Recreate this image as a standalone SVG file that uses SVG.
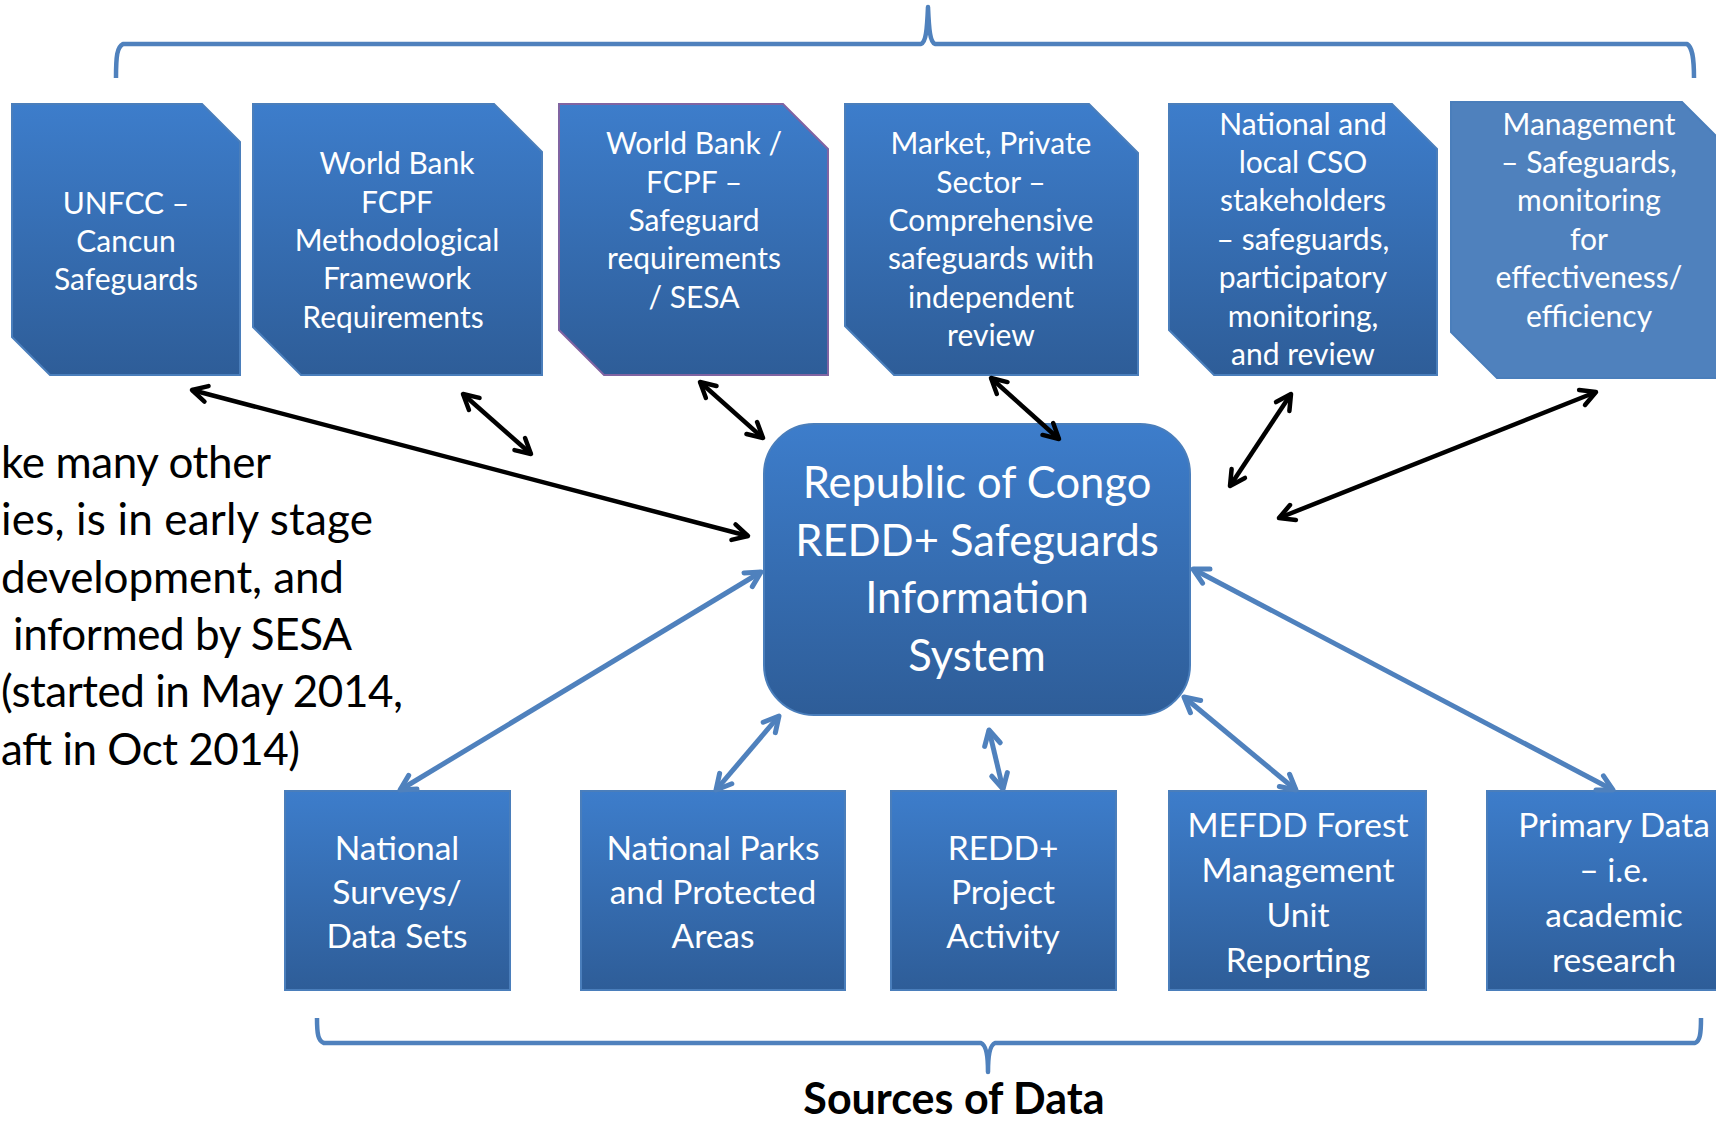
<svg xmlns="http://www.w3.org/2000/svg" width="1716" height="1124" viewBox="0 0 1716 1124">
<style>
.t{font-family:Lato,"Open Sans","Liberation Sans",sans-serif;fill:#fff;text-anchor:middle}
.top{font-size:30px}
.bot{font-size:33.5px}
.ctr{font-size:43.5px}
.side{font-family:Lato,"Open Sans","Liberation Sans",sans-serif;font-size:44px;fill:#000}
.src{font-family:Lato,"Open Sans","Liberation Sans",sans-serif;font-size:43px;font-weight:bold;fill:#000;text-anchor:middle}
.box{fill:url(#g);stroke:#4a7ebb;stroke-width:2}
.brace{fill:none;stroke:#4f81bd;stroke-width:4.5;stroke-linejoin:round;stroke-linecap:butt}
.ab{fill:none;stroke:#000;stroke-width:4.5;marker-start:url(#mb);marker-end:url(#mb)}
.al{fill:none;stroke:#4f81bd;stroke-width:5;marker-start:url(#ml);marker-end:url(#ml)}
</style>
<defs>
<linearGradient id="g" x1="0" y1="0" x2="0" y2="1">
<stop offset="0" stop-color="#3d7dcb"/>
<stop offset="1" stop-color="#2e5d98"/>
</linearGradient>
<marker id="mb" viewBox="0 0 24 24" markerWidth="24" markerHeight="24" markerUnits="userSpaceOnUse" refX="20" refY="12" orient="auto-start-reverse">
<path d="M5,4 L20,12 L5,20" fill="none" stroke="#000" stroke-width="4.5" stroke-linecap="round" stroke-linejoin="round"/>
</marker>
<marker id="ml" viewBox="0 0 24 24" markerWidth="24" markerHeight="24" markerUnits="userSpaceOnUse" refX="20" refY="12" orient="auto-start-reverse">
<path d="M5,4 L20,12 L5,20" fill="none" stroke="#4f81bd" stroke-width="5" stroke-linecap="round" stroke-linejoin="round"/>
</marker>
</defs>
<rect width="1716" height="1124" fill="#fff"/>

<g id="brace-top"><path class="brace" d="M116,78 C116,56 117,47 123,44 L921,44 C926,42 927,30 928,7 C929,30 930,42 935,44 L1687,44 C1692,47 1694,56 1694,78"/></g>
<g id="brace-bottom"><path class="brace" d="M317,1018 C317,1034 318,1041 324,1043 L981,1043 C986,1045 988,1055 988,1072 C988,1055 990,1045 995,1043 L1695,1043 C1700,1041 1701,1034 1701,1018"/></g>

<g id="n-unfcc"><path class="box" d="M12,104 L202,104 L240,142 L240,375 L50,375 L12,337 Z"/>
<text class="t top"><tspan x="126" y="214">UNFCC –</tspan><tspan x="126" y="252">Cancun</tspan><tspan x="126" y="290">Safeguards</tspan></text></g>
<g id="n-wbfcpf"><path class="box" d="M253,104 L494,104 L542,152 L542,375 L301,375 L253,327 Z"/>
<text class="t top"><tspan x="397" y="174">World Bank</tspan><tspan x="397" y="213">FCPF</tspan><tspan x="397" y="251">Methodological</tspan><tspan x="397" y="289">Framework</tspan><tspan x="393" y="328">Requirements</tspan></text></g>
<g id="n-wbsesa"><path d="M559,104 L783,104 L828,149 L828,375 L604,375 L559,330 Z" fill="url(#g)" stroke="#8064a2" stroke-width="2"/>
<text class="t top"><tspan x="694" y="154">World Bank /</tspan><tspan x="694" y="193">FCPF –</tspan><tspan x="694" y="231">Safeguard</tspan><tspan x="694" y="269">requirements</tspan><tspan x="694" y="308">/ SESA</tspan></text></g>
<g id="n-market"><path class="box" d="M845,104 L1089,104 L1138,153 L1138,375 L894,375 L845,326 Z"/>
<text class="t top"><tspan x="991" y="154">Market, Private</tspan><tspan x="991" y="193">Sector –</tspan><tspan x="991" y="231">Comprehensive</tspan><tspan x="991" y="269">safeguards with</tspan><tspan x="991" y="308">independent</tspan><tspan x="991" y="346">review</tspan></text></g>
<g id="n-cso"><path class="box" d="M1169,104 L1392,104 L1437,149 L1437,375 L1214,375 L1169,330 Z"/>
<text class="t top"><tspan x="1303" y="135">National and</tspan><tspan x="1303" y="173">local CSO</tspan><tspan x="1303" y="211">stakeholders</tspan><tspan x="1303" y="250">– safeguards,</tspan><tspan x="1303" y="288">participatory</tspan><tspan x="1303" y="327">monitoring,</tspan><tspan x="1303" y="365">and review</tspan></text></g>
<g id="n-mgmt"><path d="M1451,102 L1682,102 L1728,148 L1728,378 L1497,378 L1451,332 Z" fill="#4f81bd" stroke="#4a7ebb" stroke-width="2"/>
<text class="t top"><tspan x="1589" y="135">Management</tspan><tspan x="1589" y="173">– Safeguards,</tspan><tspan x="1589" y="211">monitoring</tspan><tspan x="1589" y="250">for</tspan><tspan x="1589" y="288">effectiveness/</tspan><tspan x="1589" y="327">efficiency</tspan></text></g>

<g id="n-center"><rect class="box" x="764" y="424" width="426" height="291" rx="50" ry="50"/>
<text class="t ctr"><tspan x="977" y="498">Republic of Congo</tspan><tspan x="977" y="556">REDD+ Safeguards</tspan><tspan x="977" y="613">Information</tspan><tspan x="977" y="671">System</tspan></text></g>

<g id="side-text">
<text class="side" x="1" y="478" textLength="270" lengthAdjust="spacing">ke many other</text>
<text class="side" x="1" y="535" textLength="372" lengthAdjust="spacing">ies, is in early stage</text>
<text class="side" x="1" y="593" textLength="343" lengthAdjust="spacing">development, and</text>
<text class="side" x="13" y="650" textLength="339" lengthAdjust="spacing">informed by SESA</text>
<text class="side" x="1" y="707" textLength="402" lengthAdjust="spacing">(started in May 2014,</text>
<text class="side" x="1" y="765" textLength="299" lengthAdjust="spacing">aft in Oct 2014)</text>
</g>

<g id="n-surveys"><rect class="box" x="285" y="791" width="225" height="199"/>
<text class="t bot"><tspan x="397" y="860">National</tspan><tspan x="397" y="904">Surveys/</tspan><tspan x="397" y="948">Data Sets</tspan></text></g>
<g id="n-parks"><rect class="box" x="581" y="791" width="264" height="199"/>
<text class="t bot"><tspan x="713" y="860">National Parks</tspan><tspan x="713" y="904">and Protected</tspan><tspan x="713" y="948">Areas</tspan></text></g>
<g id="n-project"><rect class="box" x="891" y="791" width="225" height="199"/>
<text class="t bot"><tspan x="1003" y="860">REDD+</tspan><tspan x="1003" y="904">Project</tspan><tspan x="1003" y="948">Activity</tspan></text></g>
<g id="n-mefdd"><rect class="box" x="1169" y="791" width="257" height="199"/>
<text class="t bot"><tspan x="1298" y="837">MEFDD Forest</tspan><tspan x="1298" y="882">Management</tspan><tspan x="1298" y="927">Unit</tspan><tspan x="1298" y="972">Reporting</tspan></text></g>
<g id="n-primary"><rect class="box" x="1487" y="791" width="262" height="199"/>
<text class="t bot"><tspan x="1614" y="837">Primary Data</tspan><tspan x="1614" y="882">– i.e.</tspan><tspan x="1614" y="927">academic</tspan><tspan x="1614" y="972">research</tspan></text></g>

<g id="label-sources"><text class="src" x="954" y="1114">Sources of Data</text></g>

<g id="connectors">
<line class="ab" x1="192" y1="390" x2="748" y2="536"/>
<line class="ab" x1="463" y1="394" x2="531" y2="454"/>
<line class="ab" x1="700" y1="382" x2="763" y2="438"/>
<line class="ab" x1="991" y1="378" x2="1059" y2="439"/>
<line class="ab" x1="1291" y1="394" x2="1230" y2="486"/>
<line class="ab" x1="1596" y1="392" x2="1279" y2="518"/>
<line class="al" x1="761" y1="572" x2="400" y2="790"/>
<line class="al" x1="779" y1="716" x2="716" y2="790"/>
<line class="al" x1="989" y1="730" x2="1003" y2="789"/>
<line class="al" x1="1184" y1="697" x2="1296" y2="790"/>
<line class="al" x1="1193" y1="569" x2="1613" y2="790"/>
</g>
</svg>
